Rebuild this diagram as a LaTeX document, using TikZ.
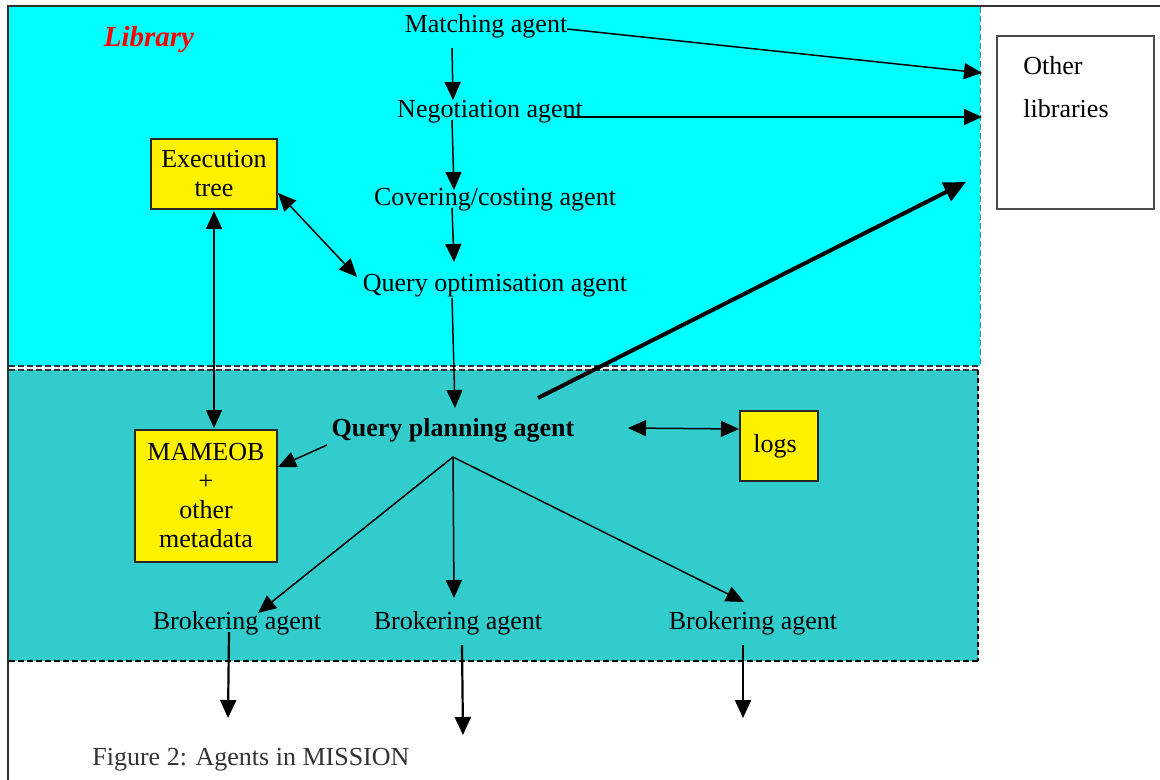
\documentclass[tikz,border=0pt]{standalone}
\usepackage{fontspec}
\setmainfont{Liberation Serif}
\usetikzlibrary{arrows.meta}
\definecolor{libcyan}{HTML}{00FFFF}
\definecolor{systeal}{HTML}{33CCCC}
\definecolor{frame}{HTML}{333333}
\begin{document}
\begin{tikzpicture}[x=0.5pt,y=-0.5pt,
  txt/.style={font=\fontsize{13}{14.5}\selectfont, inner sep=0pt, align=center},
  ybox/.style={draw=black!85, fill=yellow, line width=0.6pt, inner sep=0pt,
    font=\fontsize{13}{14.5}\selectfont, align=center},
  arr/.style={line width=0.75pt, -{Triangle[length=9pt,width=8pt]}},
  darr/.style={line width=0.75pt, {Triangle[length=9pt,width=8pt]}-{Triangle[length=9pt,width=8pt]}},
  thickarr/.style={line width=2pt, -{Triangle[length=11pt,width=10pt]}},
  bnd/.style={dash pattern=on 3pt off 1.5pt, line width=0.6pt}]
\useasboundingbox (0,0) rectangle (1160,780);

% library and system areas
\fill[libcyan] (9,7) rectangle (980,366);
\fill[systeal] (9,370) rectangle (978,661);
\draw[bnd, frame] (9,366) -- (980,366);
\draw[bnd, systeal!70!black, line width=0.4pt] (980,7) -- (980,366);
\draw[bnd, frame] (9,370) -- (978,370);
\draw[bnd, black] (9,661) -- (978,661);
\draw[black, line width=1.1pt, dash pattern=on 2.5pt off 1.5pt] (978,370) -- (978,661);

% page frame
\draw[frame, line width=1pt] (8,780) -- (8,6) -- (1160,6);

% labels
\node[font=\fontsize{14.5}{16}\selectfont\bfseries\itshape, text=red, inner sep=0pt] (lib) at (149,40) {Library};
\node[txt] (match) at (486,26) {Matching agent};
\node[txt] (nego) at (490,112) {Negotiation agent};
\node[txt] (cover) at (495,200) {Covering/costing agent};
\node[txt] (qopt) at (495,286) {Query optimisation agent};
\node[txt, font=\fontsize{13}{14.5}\selectfont\bfseries] (qplan) at (453,430) {Query planning agent};
\node[txt] (brk1) at (237,623) {Brokering agent};
\node[txt] (brk2) at (458,623) {Brokering agent};
\node[txt] (brk3) at (753,623) {Brokering agent};

% stores
\node[ybox, minimum width=63pt, minimum height=35pt] (exec) at (214,174) {\raisebox{-1.5pt}{\parbox{60pt}{\centering Execution\\tree}}};
\node[ybox, minimum width=71pt, minimum height=66pt] (meta) at (206,496) {\raisebox{-1pt}{\parbox{68pt}{\centering MAMEOB\\+\\other\\metadata}}};
\node[ybox, minimum width=39pt, minimum height=35pt] (logs) at (779,446) {\raisebox{1pt}{logs}\hspace*{4pt}};

% other libraries
\node[draw=black!70, fill=white, line width=0.6pt, minimum width=78.5pt, minimum height=86.5pt, inner sep=0pt] (other) at (1075.5,122.5) {};
\node[txt, anchor=west] (otherA) at (1023,66) {Other};
\node[txt, anchor=west] (otherB) at (1023,109) {libraries};

% caption
\node[txt, anchor=west, text=black!80] (cap) at (92,760) {Figure 2: Agents in MISSION};

% connector end points
\coordinate (m1) at (452,48);   \coordinate (n0) at (453,100);
\coordinate (n1) at (452,120);  \coordinate (c0) at (454,190);
\coordinate (c1) at (452,208);  \coordinate (o0) at (454,262);
\coordinate (o1) at (452,298);  \coordinate (p0) at (455,408);
\coordinate (mR) at (567,29);   \coordinate (oA) at (982,73);
\coordinate (nR) at (566,117);  \coordinate (oB) at (982,117);
\coordinate (pR) at (538,398);  \coordinate (oC) at (966,182);
\coordinate (eR) at (278,193);  \coordinate (qL) at (357,277);
\coordinate (eB) at (214,211);  \coordinate (mT) at (214,428);
\coordinate (pL) at (327,445);  \coordinate (mR2) at (278,467);
\coordinate (pE) at (628,428);  \coordinate (lW) at (739,429);
\coordinate (fan) at (453,457);
\coordinate (b1t) at (258,613); \coordinate (b2t) at (454,598); \coordinate (b3t) at (744,602);
\coordinate (b1s) at (229,632); \coordinate (b1e) at (228,718);
\coordinate (b2s) at (462,645); \coordinate (b2e) at (463,735);
\coordinate (b3s) at (743,645); \coordinate (b3e) at (743,718);

% agent chain
\draw[arr] (m1) -- (n0);
\draw[arr] (n1) -- (c0);
\draw[arr] (c1) -- (o0);
\draw[arr] (o1) -- (p0);

% links to other libraries
\draw[arr] (mR) -- (oA);
\draw[arr] (nR) -- (oB);
\draw[thickarr] (pR) -- (oC);

% stores
\draw[darr] (eR) -- (qL);
\draw[darr] (eB) -- (mT);
\draw[arr] (pL) -- (mR2);
\draw[darr] (pE) -- (lW);

% brokering agents
\draw[arr] (fan) -- (b1t);
\draw[arr] (fan) -- (b2t);
\draw[arr] (fan) -- (b3t);
\draw[arr, line width=1.1pt] (b1s) -- (b1e);
\draw[arr, line width=1.1pt] (b2s) -- (b2e);
\draw[arr, line width=1.1pt] (b3s) -- (b3e);
\end{tikzpicture}
\end{document}
